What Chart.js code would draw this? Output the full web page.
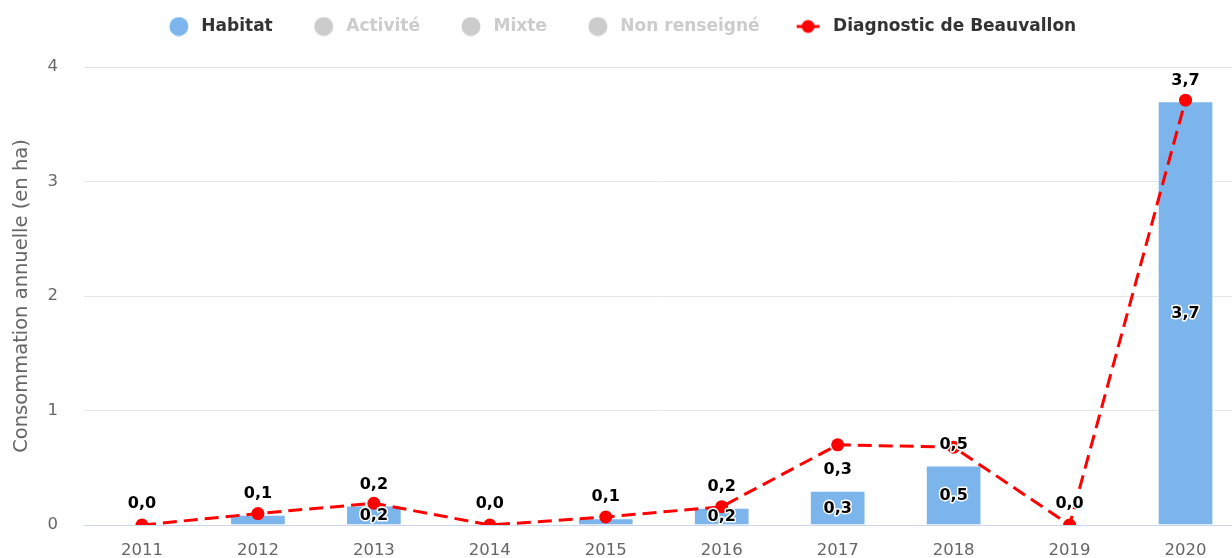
<!DOCTYPE html>
<html lang="fr">
<head>
<meta charset="utf-8">
<title>Consommation annuelle</title>
<script src="https://cdn.jsdelivr.net/npm/chart.js@4.4.1/dist/chart.umd.min.js"></script>
<style>
  html, body { margin: 0; padding: 0; background: #ffffff; overflow: hidden; }
  #wrap { position: absolute; left: 0; top: 0; width: 1250px; height: 561px; }
</style>
</head>
<body>
<div id="wrap"><canvas id="chart"></canvas></div>
<script>
// Années
const annees = ['2011', '2012', '2013', '2014', '2015', '2016', '2017', '2018', '2019', '2020'];

// Consommation par destination (ha)
const habitat = [0, 0.09, 0.17, 0, 0.06, 0.15, 0.3, 0.52, 0, 3.7];
const activite = [];
const mixte = [];
const nonRenseigne = [];

// Courbe du diagnostic (ha)
const diagnostic = [0, 0.1, 0.19, 0, 0.07, 0.16, 0.7, 0.68, 0, 3.71];

// Graduations de l'axe vertical
const graduations = [0, 1, 2, 3, 4];

const FONT = "'DejaVu Sans', Verdana, sans-serif";
const BLEU = '#7cb5ec';
const GRIS = '#cccccc';
const ROUGE = '#ff0000';

const fmt = v => (Math.round(v * 10) / 10).toFixed(1).replace('.', ',');

// Symboles de légende
function symboleRond(color) {
  const c = document.createElement('canvas');
  c.width = 47; c.height = 20;
  const g = c.getContext('2d');
  g.fillStyle = color;
  g.beginPath();
  g.arc(33, 10, 9.5, 0, Math.PI * 2);
  g.fill();
  return c;
}
function symboleLigne(color) {
  const c = document.createElement('canvas');
  c.width = 47; c.height = 20;
  const g = c.getContext('2d');
  g.strokeStyle = color;
  g.lineWidth = 3;
  g.beginPath();
  g.moveTo(19, 10);
  g.lineTo(42, 10);
  g.stroke();
  g.fillStyle = color;
  g.beginPath();
  g.arc(30.5, 10, 6.5, 0, Math.PI * 2);
  g.fill();
  return c;
}

// Hauteur fixe de la zone de légende
const hauteurLegende = {
  id: 'hauteurLegende',
  beforeInit(chart) {
    const fit = chart.legend.fit;
    chart.legend.fit = function () {
      fit.call(this);
      this.height = 67;
    };
  }
};

// Légende légèrement décalée vers la gauche
const decalageLegende = {
  id: 'decalageLegende',
  afterLayout(chart) {
    chart.legend.left -= 28;
  }
};

// Étiquettes de valeurs : au centre des colonnes et total au-dessus de la pile
const etiquettes = {
  id: 'etiquettes',
  afterDatasetsDraw(chart) {
    const ctx = chart.ctx;
    const y = chart.scales.y;
    ctx.save();
    ctx.font = "bold 16px " + FONT;
    ctx.textAlign = 'center';
    ctx.textBaseline = 'middle';
    ctx.lineJoin = 'round';
    ctx.lineWidth = 3;
    ctx.strokeStyle = '#ffffff';
    ctx.fillStyle = '#000000';
    const texte = (t, px, py) => { ctx.strokeText(t, px, py); ctx.fillText(t, px, py); };

    const colonnes = chart.data.datasets
      .map((ds, i) => ({ ds, i }))
      .filter(o => o.ds.type !== 'line' && chart.isDatasetVisible(o.i));

    annees.forEach((_, idx) => {
      let total = 0;
      let xPix = null;
      colonnes.forEach(({ ds, i }) => {
        const v = ds.data[idx] || 0;
        total += v;
        const el = chart.getDatasetMeta(i).data[idx];
        if (!el) return;
        xPix = el.x;
        const h = Math.abs(el.base - el.y);
        if (v > 0 && h >= 13) texte(fmt(v), el.x, (el.y + el.base) / 2 + 1);
      });
      if (xPix !== null) texte(fmt(total), xPix, y.getPixelForValue(total) - 21);
    });
    ctx.restore();
  }
};

const ctx = document.getElementById('chart');
new Chart(ctx, {
  data: {
    labels: annees,
    datasets: [
      { type: 'bar', label: 'Habitat', data: habitat, backgroundColor: BLEU, borderColor: '#ffffff', borderWidth: 1, stack: 'conso', order: 1 },
      { type: 'bar', label: 'Activité', data: activite, backgroundColor: '#434348', stack: 'conso', order: 1, hidden: true },
      { type: 'bar', label: 'Mixte', data: mixte, backgroundColor: '#90ed7d', stack: 'conso', order: 1, hidden: true },
      { type: 'bar', label: 'Non renseigné', data: nonRenseigne, backgroundColor: '#f7a35c', stack: 'conso', order: 1, hidden: true },
      {
        type: 'line', label: 'Diagnostic de Beauvallon', data: diagnostic, stack: 'diag', order: 0,
        borderColor: ROUGE, backgroundColor: ROUGE, borderWidth: 3, borderDash: [14, 7],
        pointRadius: 6.5, pointBackgroundColor: ROUGE, pointBorderWidth: 0, tension: 0, fill: false
      }
    ]
  },
  options: {
    responsive: true,
    maintainAspectRatio: false,
    animation: false,
    devicePixelRatio: 1,
    layout: { padding: 0 },
    datasets: { bar: { barPercentage: 0.8, categoryPercentage: 0.6 } },
    plugins: {
      tooltip: { enabled: false },
      legend: {
        position: 'top',
        align: 'center',
        labels: {
          usePointStyle: true,
          pointStyleWidth: 47,
          padding: 18,
          font: { family: FONT, size: 17, weight: 'bold' },
          color: '#333333',
          generateLabels(chart) {
            return chart.data.datasets.map((ds, i) => {
              const visible = chart.isDatasetVisible(i);
              const couleur = visible ? (ds.type === 'line' ? ROUGE : BLEU) : GRIS;
              return {
                text: ds.label,
                fillStyle: couleur,
                strokeStyle: couleur,
                lineWidth: 0,
                fontColor: visible ? '#333333' : GRIS,
                hidden: false,
                datasetIndex: i,
                pointStyle: ds.type === 'line' ? symboleLigne(couleur) : symboleRond(couleur)
              };
            });
          }
        }
      }
    },
    scales: {
      x: {
        stacked: true,
        offset: true,
        grid: { display: false, drawTicks: false },
        border: { display: true, color: '#ccd6eb', width: 1 },
        ticks: { color: '#666666', padding: 16, font: { family: FONT, size: 16.5 }, maxRotation: 0 },
        afterFit(scale) { scale.height = 36; }
      },
      y: {
        stacked: true,
        min: 0,
        max: 4,
        afterBuildTicks(scale) { scale.ticks = graduations.map(v => ({ value: v })); },
        grid: {
          drawTicks: false,
          color: c => (c.tick && c.tick.value === 0 ? '#ccd6eb' : '#e6e6e6'),
          lineWidth: 1
        },
        border: { display: false },
        ticks: { color: '#666666', padding: 26, font: { family: FONT, size: 16.5 } },
        title: {
          display: true,
          text: 'Consommation annuelle (en ha)',
          color: '#666666',
          font: { family: FONT, size: 19.5 },
          padding: { top: 10, bottom: 0 }
        },
        afterFit(scale) { scale.width = 84; }
      }
    }
  },
  plugins: [hauteurLegende, decalageLegende, etiquettes]
});
</script>
</body>
</html>
